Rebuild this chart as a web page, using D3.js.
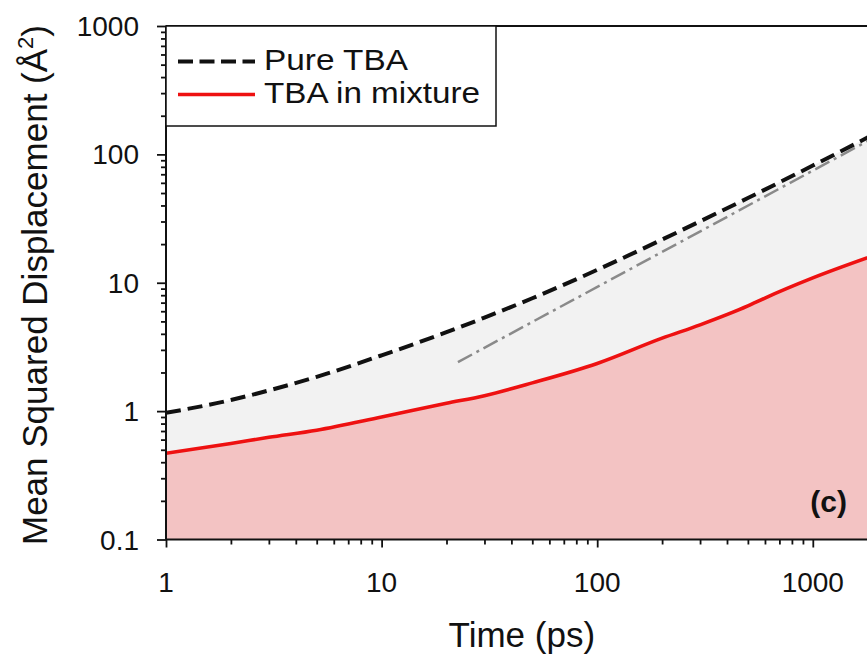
<!DOCTYPE html>
<html><head><meta charset="utf-8">
<script src="https://cdn.jsdelivr.net/npm/d3@7"></script>
<style>
html,body{margin:0;padding:0;background:#fff;}
text{font-family:"Liberation Sans",Arial,sans-serif;fill:#111;}
</style></head>
<body>
<svg id="chart" width="867" height="656"></svg>
<script>
// ---- data ----
const pureT   = [1, 2, 3, 5, 10, 20, 30, 50, 100, 200, 300, 500, 1000, 2000];
const pureMSD = [0.97, 1.22, 1.45, 1.85, 2.72, 4.12, 5.35, 7.57, 12.6, 21.7, 30.1, 45.7, 81.8, 148.6];
const mixT    = [1, 2, 3, 5, 10, 20, 30, 50, 100, 200, 300, 500, 600, 1000, 2000];
const mixMSD  = [0.47, 0.56, 0.625, 0.71, 0.9, 1.15, 1.32, 1.66, 2.35, 3.7, 4.7, 6.6, 7.6, 10.9, 16.7];
const refT    = [22.6, 2000];
const refMSD  = [2.41, 140];
const xTickVals = [1, 10, 100, 1000];
const xTickLabels = ["1", "10", "100", "1000"];
const yTickVals = [0.1, 1, 10, 100, 1000];
const yTickLabels = ["0.1", "1", "10", "100", "1000"];
const seriesNames = ["Pure TBA", "TBA in mixture"];
const panelLabel = "(c)";

// ---- layout ----
const L = 166, R = 877.7, T = 26, B = 539.5;
const svg = d3.select("#chart");
const x = d3.scaleLog().domain([1, 2000]).range([L, R]);
const y = d3.scaleLog().domain([0.1, 1000]).range([B, T]);

svg.append("defs").append("clipPath").attr("id","clip")
  .append("rect").attr("x",L).attr("y",T).attr("width",R-L).attr("height",B-T);

const pure = pureT.map((t,i)=>({t, v: pureMSD[i]}));
const mix = mixT.map((t,i)=>({t, v: mixMSD[i]}));
const ref = refT.map((t,i)=>({t, v: refMSD[i]}));

const g = svg.append("g").attr("clip-path","url(#clip)");
const curve = d3.curveMonotoneX;

// gray area under pure curve, then pink area under mixture curve on top
g.append("path").datum(pure)
  .attr("d", d3.area().curve(curve).x(d=>x(d.t)).y0(B).y1(d=>y(d.v)))
  .attr("fill","#f2f2f2");
g.append("path").datum(mix)
  .attr("d", d3.area().curve(curve).x(d=>x(d.t)).y0(B).y1(d=>y(d.v)))
  .attr("fill","#f3c3c3");

// reference dash-dot line
g.append("path").datum(ref)
  .attr("d", d3.line().x(d=>x(d.t)).y(d=>y(d.v)))
  .attr("fill","none").attr("stroke","#8a8a8a").attr("stroke-width",2.5)
  .attr("stroke-dasharray","16,5,3,5");

// mixture line
g.append("path").datum(mix)
  .attr("d", d3.line().curve(curve).x(d=>x(d.t)).y(d=>y(d.v)))
  .attr("fill","none").attr("stroke","#ee1111").attr("stroke-width",3.6);

// pure line
g.append("path").datum(pure)
  .attr("d", d3.line().curve(curve).x(d=>x(d.t)).y(d=>y(d.v)))
  .attr("fill","none").attr("stroke","#111").attr("stroke-width",4)
  .attr("stroke-dasharray","15,7");

// ---- axes ----
const xMinor = [];
for (let k=0;k<=3;k++) for (let m=2;m<=9;m++){ const v=m*Math.pow(10,k); if (v<=2000) xMinor.push(v); }
const yMinor = [];
for (let k=-1;k<=2;k++) for (let m=2;m<=9;m++) yMinor.push(m*Math.pow(10,k));

const xAxisMinor = d3.axisBottom(x).tickValues(xMinor).tickSize(5).tickFormat("");
const xAxisMajor = d3.axisBottom(x).tickValues(xTickVals).tickSize(8).tickFormat("");
const yAxisMinor = d3.axisLeft(y).tickValues(yMinor).tickSize(5).tickFormat("");
const yAxisMajor = d3.axisLeft(y).tickValues(yTickVals).tickSize(9).tickFormat("");

function styleAxis(sel){
  sel.select(".domain").remove();
  sel.selectAll(".tick line").attr("stroke","#111").attr("stroke-width",1.8);
}
svg.append("g").attr("transform",`translate(0,${B})`).call(xAxisMinor).call(styleAxis);
svg.append("g").attr("transform",`translate(0,${B})`).call(xAxisMajor).call(styleAxis);
svg.append("g").attr("transform",`translate(${L},0)`).call(yAxisMinor).call(styleAxis);
svg.append("g").attr("transform",`translate(${L},0)`).call(yAxisMajor).call(styleAxis);

// axis lines + top border
svg.append("line").attr("x1",L).attr("x2",R).attr("y1",B).attr("y2",B).attr("stroke","#111").attr("stroke-width",2);
svg.append("line").attr("x1",L).attr("x2",L).attr("y1",T).attr("y2",B).attr("stroke","#111").attr("stroke-width",2);
svg.append("line").attr("x1",L).attr("x2",R).attr("y1",T).attr("y2",T).attr("stroke","#111").attr("stroke-width",2);

// tick labels
svg.selectAll(".xtl").data(xTickVals).enter().append("text")
  .attr("x",d=>x(d)).attr("y",592).attr("text-anchor","middle")
  .attr("font-size",28).text((d,i)=>xTickLabels[i]);
svg.selectAll(".ytl").data(yTickVals).enter().append("text")
  .attr("x",139).attr("y",d=>y(d)+10).attr("text-anchor","end")
  .attr("font-size",28).text((d,i)=>yTickLabels[i]);

// axis titles
svg.append("text").attr("x",(L+R)/2).attr("y",647).attr("text-anchor","middle")
  .attr("font-size",35).text("Time (ps)");
const yl = svg.append("text").attr("transform","translate(47,285) rotate(-90)")
  .attr("text-anchor","middle").attr("font-size",35);
yl.append("tspan").text("Mean Squared Displacement (Å");
yl.append("tspan").attr("font-size",22).attr("dy",-14).text("2");
yl.append("tspan").attr("dy",14).text(")");

// legend
svg.append("rect").attr("x",L).attr("y",T).attr("width",330).attr("height",100)
  .attr("fill","#fff").attr("stroke","#111").attr("stroke-width",1.5);
svg.append("line").attr("x1",178).attr("x2",255).attr("y1",61.5).attr("y2",61.5)
  .attr("stroke","#111").attr("stroke-width",4).attr("stroke-dasharray","15,6.5");
svg.append("line").attr("x1",178).attr("x2",255).attr("y1",94.5).attr("y2",94.5)
  .attr("stroke","#ee1111").attr("stroke-width",3.6);
svg.append("text").attr("x",264).attr("y",70).attr("font-size",29)
  .attr("textLength",144).attr("lengthAdjust","spacingAndGlyphs").text(seriesNames[0]);
svg.append("text").attr("x",264).attr("y",103).attr("font-size",29)
  .attr("textLength",216).attr("lengthAdjust","spacingAndGlyphs").text(seriesNames[1]);

// panel label
svg.append("text").attr("x",847).attr("y",512).attr("text-anchor","end")
  .attr("font-size",30).attr("font-weight","bold").text(panelLabel);
</script>
</body></html>
